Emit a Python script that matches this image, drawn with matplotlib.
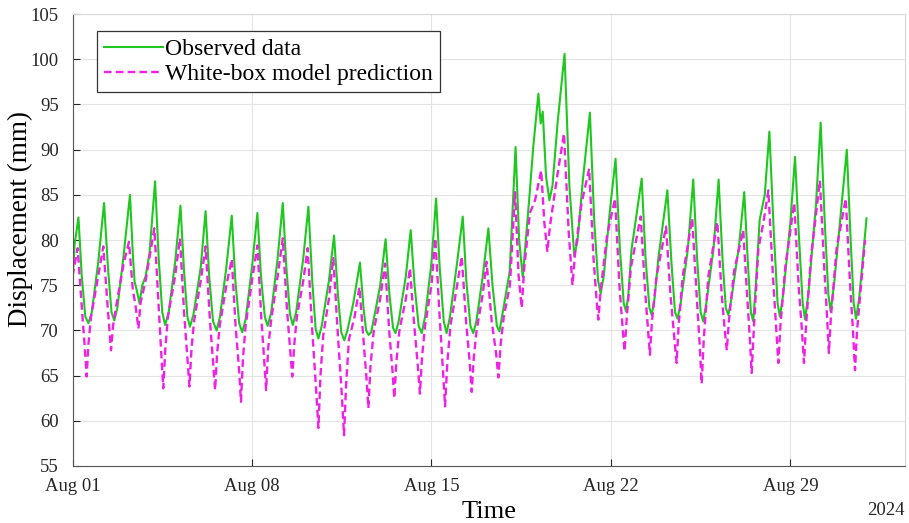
import numpy as np
import matplotlib
matplotlib.use('Agg')
import matplotlib.pyplot as plt
import matplotlib.dates as mdates

# время в сутках от 1 августа 2024, значения в мм (вершины кривых)
obs_t = [0.00, 0.08, 0.23, 0.36, 0.50, 0.62, 0.75, 1.00, 1.23, 1.38, 1.52, 1.63, 1.75, 2.00, 2.24, 2.36, 2.42, 2.50,
         2.61, 2.72, 2.85, 3.00, 3.22, 3.36, 3.50, 3.61, 3.75, 4.00, 4.21, 4.35, 4.48, 4.58, 4.72, 5.00, 5.19, 5.33,
         5.48, 5.62, 5.75, 6.00, 6.21, 6.35, 6.50, 6.62, 6.75, 7.00, 7.21, 7.35, 7.50, 7.61, 7.75, 8.00, 8.20, 8.34,
         8.48, 8.59, 8.72, 9.00, 9.20, 9.35, 9.48, 9.59, 9.72, 10.00, 10.20, 10.35, 10.48, 10.60, 10.72, 10.95, 11.21,
         11.35, 11.45, 11.55, 11.65, 11.80, 12.00, 12.21, 12.36, 12.50, 12.60, 12.72, 13.00, 13.19, 13.34, 13.50, 13.62,
         13.75, 14.00, 14.18, 14.32, 14.48, 14.59, 14.72, 15.00, 15.22, 15.36, 15.52, 15.63, 15.75, 16.00, 16.22, 16.38,
         16.55, 16.65, 16.78, 17.05, 17.28, 17.42, 17.56, 17.68, 17.84, 17.97, 18.17, 18.26, 18.34, 18.47, 18.60, 18.72,
         18.92, 19.19, 19.38, 19.57, 19.70, 19.90, 20.18, 20.35, 20.50, 20.60, 20.72, 20.95, 21.18, 21.35, 21.50, 21.59,
         21.68, 21.80, 22.20, 22.35, 22.50, 22.59, 22.70, 22.85, 23.20, 23.36, 23.50, 23.60, 23.72, 24.00, 24.21, 24.36,
         24.50, 24.60, 24.72, 25.00, 25.20, 25.35, 25.48, 25.58, 25.70, 26.00, 26.20, 26.35, 26.46, 26.55, 26.65, 26.80,
         27.00, 27.18, 27.35, 27.50, 27.59, 27.72, 28.00, 28.18, 28.34, 28.48, 28.57, 28.70, 29.00, 29.18, 29.34, 29.48,
         29.57, 29.70, 30.00, 30.20, 30.35, 30.47, 30.56, 30.68, 30.97]
obs_v = [75.5, 79.5, 82.5, 76.0, 71.5, 70.8, 72.0, 77.5, 84.1, 77.0, 72.0, 71.1, 72.5, 78.5, 85.0, 78.0, 75.4, 74.5,
         73.0, 75.0, 76.0, 78.5, 86.5, 78.0, 72.0, 70.6, 72.0, 77.5, 83.8, 76.5, 71.5, 70.4, 71.8, 77.0, 83.2, 76.0,
         71.0, 70.0, 71.5, 77.0, 82.7, 75.5, 70.8, 69.8, 71.2, 77.0, 83.0, 76.0, 71.5, 70.5, 72.0, 78.0, 84.1, 77.0,
         71.8, 70.6, 72.0, 78.0, 83.7, 75.5, 70.2, 69.1, 70.5, 75.5, 80.5, 74.0, 69.8, 68.9, 70.0, 73.0, 77.5,
         72.5, 70.0, 69.5, 69.8, 72.0, 75.0, 80.1, 74.0, 70.3, 69.7, 71.0, 76.0, 81.1, 75.0, 70.5, 69.7,
         71.5, 77.5, 84.6, 77.0, 71.0, 69.7, 71.5, 77.5, 82.6, 75.5, 70.5, 69.7, 71.0, 76.0, 81.3, 75.0,
         70.5, 69.9, 72.0, 76.5, 90.3, 80.0, 75.9, 80.0, 85.5, 90.3, 96.2, 92.9, 94.2, 87.0, 84.4, 86.0,
         93.0, 100.6, 86.0, 78.2, 80.0, 86.5, 94.1, 82.0, 75.5, 74.1, 76.0, 83.0, 89.0, 79.0, 73.0, 72.1,
         74.0, 78.9, 86.8, 78.0, 72.5, 71.7, 73.5, 78.0, 85.5, 77.5, 72.0, 71.3, 73.0, 79.0, 86.7, 78.0,
         72.0, 71.0, 73.0, 79.0, 86.7, 78.0, 72.5, 71.7, 73.5, 79.5, 85.3, 77.0, 72.0, 71.0, 75.0, 82.2,
         85.0, 92.0, 81.0, 73.0, 71.5, 74.0, 82.0, 89.2, 80.0, 73.0, 71.2, 74.0, 84.0, 93.0, 82.0, 74.0,
         72.1, 75.0, 84.0, 90.0, 80.0, 73.0, 71.3, 73.5, 82.4]

pred_t = [0.00, 0.20, 0.35, 0.48, 0.55, 0.62, 0.72, 1.00, 1.20, 1.36, 1.50, 1.58, 1.72, 2.00, 2.20, 2.35, 2.45, 2.57,
          2.65, 2.85, 3.19, 3.35, 3.47, 3.54, 3.62, 3.72, 4.00, 4.19, 4.35, 4.48, 4.56, 4.64, 4.74, 5.00, 5.19, 5.35,
          5.48, 5.56, 5.64, 5.74, 6.00, 6.21, 6.36, 6.50, 6.57, 6.65, 6.75, 7.00, 7.21, 7.36, 7.48, 7.55, 7.63, 7.74,
          8.00, 8.20, 8.36, 8.50, 8.57, 8.65, 8.75, 9.00, 9.17, 9.35, 9.50, 9.59, 9.67, 9.78, 10.00, 10.17, 10.35,
          10.50, 10.59, 10.67, 10.78, 11.00, 11.19, 11.35, 11.47, 11.54, 11.62, 11.75, 12.00, 12.19, 12.35, 12.48,
          12.55, 12.63, 12.75, 13.00, 13.16, 13.33, 13.47, 13.55, 13.63, 13.75, 14.00, 14.15, 14.32, 14.45, 14.53,
          14.62, 14.74, 15.00, 15.18, 15.35, 15.49, 15.57, 15.65, 15.76, 16.00, 16.15, 16.35, 16.52, 16.61, 16.70,
          16.82, 17.06, 17.26, 17.40, 17.52, 17.62, 17.84, 18.04, 18.28, 18.40, 18.52, 18.62, 18.90, 19.17, 19.35,
          19.50, 19.60, 19.85, 20.15, 20.32, 20.45, 20.51, 20.60, 20.85, 21.16, 21.33, 21.45, 21.53, 21.62, 21.78,
          22.16, 22.33, 22.45, 22.52, 22.60, 22.78, 23.15, 23.32, 23.46, 23.56, 23.64, 23.80, 24.17, 24.33, 24.46,
          24.54, 24.62, 24.80, 25.15, 25.32, 25.44, 25.52, 25.60, 25.80, 26.16, 26.32, 26.42, 26.49, 26.57, 26.75,
          26.95, 27.14, 27.32, 27.45, 27.53, 27.61, 27.80, 28.15, 28.32, 28.45, 28.53, 28.61, 28.80, 29.15, 29.32,
          29.43, 29.50, 29.58, 29.80, 30.16, 30.32, 30.44, 30.52, 30.60, 30.91]
pred_v = [76.0, 79.1, 73.0, 68.0, 64.9, 68.5, 71.5, 76.0, 79.3, 73.0, 67.8, 70.5, 73.0, 77.5, 79.8, 74.5, 72.9, 70.2,
          73.0, 75.5, 81.3, 73.0, 67.0, 63.6, 68.0, 71.5, 76.0, 80.2, 72.0, 67.0, 63.8, 68.0, 71.0, 75.5, 79.3, 71.5,
          66.5, 63.4, 67.5, 70.5, 75.0, 77.9, 70.5, 65.5, 62.1, 67.0, 70.5, 75.5, 79.4, 71.5, 66.5, 63.4, 68.0, 71.0,
          76.0, 80.2, 72.5, 67.5, 64.9, 68.5, 71.5, 75.5, 79.1, 70.0, 63.5, 59.2, 65.0, 69.5, 73.5, 78.0, 69.5,
          63.0, 58.4, 64.0, 69.0, 71.5, 74.8, 69.0, 64.5, 61.4, 66.0, 70.0, 73.5, 77.4, 70.0, 65.5,
          62.5, 66.5, 70.0, 73.5, 76.9, 70.5, 66.0, 63.0, 67.0, 70.5, 75.0, 80.2, 71.5, 65.5, 61.6,
          66.5, 70.5, 75.0, 78.2, 71.0, 66.5, 63.2, 67.0, 70.0, 74.0, 77.6, 71.0, 67.5, 64.8, 68.5,
          71.5, 75.0, 85.3, 76.0, 72.5, 77.0, 83.0, 84.4, 87.7, 82.0, 78.7, 81.5, 87.0, 91.8, 81.0,
          75.0, 78.5, 84.0, 87.9, 78.0, 73.0, 71.2, 74.5, 80.5, 84.6, 75.0, 70.5, 67.7, 71.5, 77.0,
          82.6, 74.5, 70.0, 67.3, 71.0, 76.0, 81.5, 74.0, 69.5, 66.4, 70.5, 76.0, 82.4, 74.5, 68.5,
          64.1, 69.0, 76.0, 82.0, 74.0, 70.0, 67.8, 71.0, 76.5, 81.1, 73.5, 69.0, 65.3, 70.0, 79.0,
          82.0, 85.5, 76.0, 70.0, 66.4, 70.5, 77.0, 84.1, 75.0, 70.0, 66.4, 70.5, 78.0, 86.6, 77.0,
          71.5, 67.5, 71.5, 79.0, 84.6, 75.5, 70.0, 65.6, 70.0, 80.0]

tick_days = [0, 7, 14, 21, 28]
y_ticks = list(range(55, 106, 5))

start = np.datetime64('2024-08-01T00:00')
def to_dates(days):
    return start + (np.array(days) * 86400).astype('timedelta64[s]')

plt.rcParams['font.family'] = ['Liberation Serif', 'DejaVu Serif']

fig = plt.figure(figsize=(9.09, 5.23), dpi=100)
ax = fig.add_axes([0.0798, 0.109, 0.9158, 0.864])

ax.plot(to_dates(obs_t), obs_v, color='#1ec81e', lw=1.5, label='Observed data')
ax.plot(to_dates(pred_t), pred_v, color='#f020e6', lw=1.7, linestyle=(0, (3.2, 1.8)),
        label='White-box model prediction')

ax.set_xlim(start, to_dates([32.47])[0])
ax.set_ylim(55, 105)
ax.set_yticks(y_ticks)
ax.set_xticks(to_dates(tick_days))
ax.xaxis.set_major_formatter(mdates.DateFormatter('%b %d'))
ax.tick_params(direction='in', length=5, width=0.8, labelsize=13.5, colors='#262626')
ax.tick_params(axis='y', pad=10)
ax.tick_params(axis='x', pad=9)
ax.grid(True, color='#e3e3e3', lw=0.8)
ax.set_axisbelow(True)
for s in ['top', 'right']:
    ax.spines[s].set_color('#d8d8d8')
for s in ['left', 'bottom']:
    ax.spines[s].set_color('#555555')

ax.set_xlabel('Time', fontsize=19, labelpad=4)
ax.set_ylabel('Displacement (mm)', fontsize=19.5)
ax.yaxis.set_label_coords(-0.047, 0.546)
ax.text(1.0, -0.08, '2024', transform=ax.transAxes, ha='right', va='top', fontsize=13.5, color='#262626')

leg = ax.legend(loc='upper left', bbox_to_anchor=(0.029, 0.962), fontsize=17, fancybox=False,
                edgecolor='#333333', framealpha=1, handlelength=2.5, handletextpad=0.1,
                borderpad=0.3, labelspacing=0.15, borderaxespad=0)
leg.get_frame().set_linewidth(0.9)

fig.savefig('out.png', dpi=100)
